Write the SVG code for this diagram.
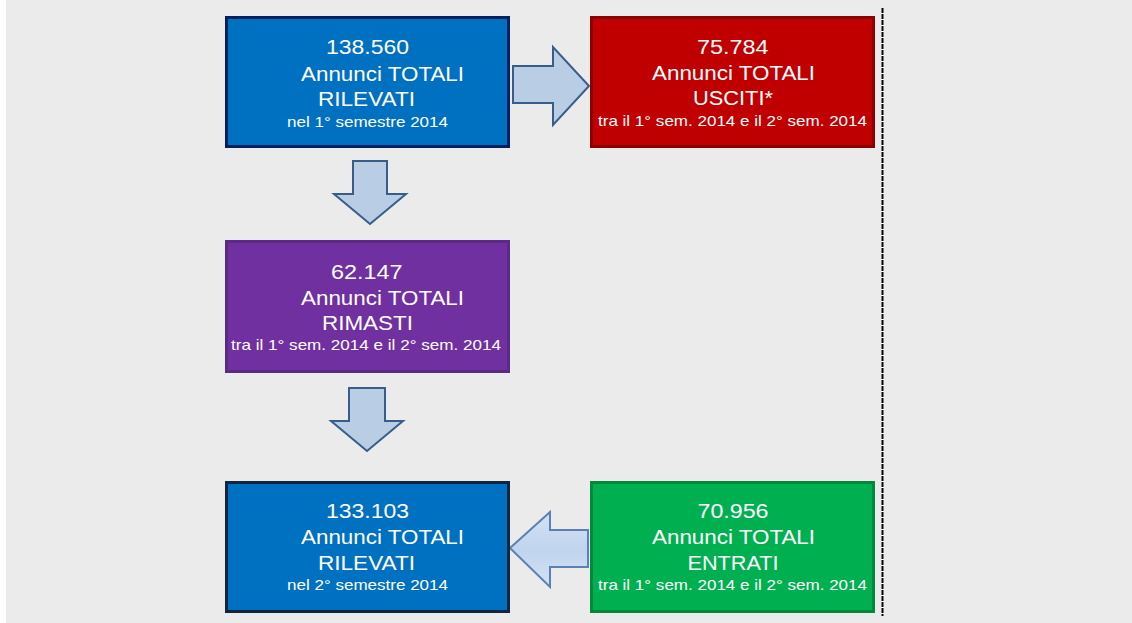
<svg xmlns="http://www.w3.org/2000/svg" width="1132" height="623" viewBox="0 0 1132 623">
<defs>
<style>
.t{font-family:"Liberation Sans",Arial,sans-serif;fill:#ffffff;}
.b{font-size:20px;}
.s{font-size:15px;}
.arr{fill:#b9cde5;stroke:#385d8a;stroke-width:2;stroke-linejoin:miter;}
</style>
<linearGradient id="lg" x1="0" y1="0" x2="0" y2="1">
<stop offset="0" stop-color="#d4e2f4"/>
<stop offset="0.5" stop-color="#c0d4ee"/>
<stop offset="1" stop-color="#d4e2f4"/>
</linearGradient>
</defs>
<rect x="0" y="0" width="1132" height="623" fill="#ffffff"/>
<rect x="6" y="0" width="1126" height="623" fill="#ebebeb"/>
<line x1="882.5" y1="8" x2="882.5" y2="616" stroke="#ffffff" stroke-width="2"/>
<line x1="882.5" y1="8" x2="882.5" y2="616" stroke="#000000" stroke-width="2" stroke-dasharray="5 1"/>
<g id="connectors">
<polygon class="arr" points="513,66 553,66 553,47 589,86 553,125 553,103 513,103"/>
<polygon class="arr" points="353,161 387,161 387,194 406,194 370,224 334,194 353,194"/>
<polygon class="arr" points="349,388 385,388 385,421 403,421 367,451 331,421 349,421"/>
<polygon points="588,530 550,530 550,512 510,548 550,587 550,567 588,567" fill="url(#lg)" stroke="#5a80b4" stroke-width="2"/>
</g>
<g id="n1">
<rect x="226.5" y="17.5" width="282" height="129" fill="#0070c0" stroke="#002060" stroke-width="3"/>
<text class="t b" x="326" y="54" textLength="83" lengthAdjust="spacingAndGlyphs">138.560</text>
<text class="t b" x="301" y="81" textLength="163" lengthAdjust="spacingAndGlyphs">Annunci TOTALI</text>
<text class="t b" x="318" y="105.5" textLength="97" lengthAdjust="spacingAndGlyphs">RILEVATI</text>
<text class="t s" x="287" y="126.5" textLength="161" lengthAdjust="spacingAndGlyphs">nel 1° semestre 2014</text>
</g>
<g id="n2">
<rect x="591.5" y="17.5" width="282" height="129" fill="#c00000" stroke="#8a0000" stroke-width="3"/>
<text class="t b" x="697" y="54" textLength="71.5" lengthAdjust="spacingAndGlyphs">75.784</text>
<text class="t b" x="652" y="79.5" textLength="163" lengthAdjust="spacingAndGlyphs">Annunci TOTALI</text>
<text class="t b" x="693" y="105" textLength="80" lengthAdjust="spacingAndGlyphs">USCITI*</text>
<text class="t s" x="598" y="126" textLength="269" lengthAdjust="spacingAndGlyphs">tra il 1° sem. 2014 e il 2° sem. 2014</text>
</g>
<g id="n3">
<rect x="226.5" y="241.5" width="282" height="130" fill="#7030a0" stroke="#5b2a86" stroke-width="3"/>
<text class="t b" x="331" y="278.5" textLength="71.5" lengthAdjust="spacingAndGlyphs">62.147</text>
<text class="t b" x="301" y="304.5" textLength="163" lengthAdjust="spacingAndGlyphs">Annunci TOTALI</text>
<text class="t b" x="322" y="330" textLength="91" lengthAdjust="spacingAndGlyphs">RIMASTI</text>
<text class="t s" x="231" y="350" textLength="270" lengthAdjust="spacingAndGlyphs">tra il 1° sem. 2014 e il 2° sem. 2014</text>
</g>
<g id="n4">
<rect x="226.5" y="482.5" width="282" height="129" fill="#0070c0" stroke="#10253f" stroke-width="3"/>
<text class="t b" x="326" y="518" textLength="83" lengthAdjust="spacingAndGlyphs">133.103</text>
<text class="t b" x="301" y="544" textLength="163" lengthAdjust="spacingAndGlyphs">Annunci TOTALI</text>
<text class="t b" x="318" y="569.5" textLength="97" lengthAdjust="spacingAndGlyphs">RILEVATI</text>
<text class="t s" x="287" y="590" textLength="161" lengthAdjust="spacingAndGlyphs">nel 2° semestre 2014</text>
</g>
<g id="n5">
<rect x="591.5" y="482.5" width="282" height="129" fill="#00b050" stroke="#00883c" stroke-width="3"/>
<text class="t b" x="697.5" y="518" textLength="71" lengthAdjust="spacingAndGlyphs">70.956</text>
<text class="t b" x="652" y="543.5" textLength="163" lengthAdjust="spacingAndGlyphs">Annunci TOTALI</text>
<text class="t b" x="687.5" y="569.5" textLength="91" lengthAdjust="spacingAndGlyphs">ENTRATI</text>
<text class="t s" x="598" y="590" textLength="269" lengthAdjust="spacingAndGlyphs">tra il 1° sem. 2014 e il 2° sem. 2014</text>
</g>
</svg>
